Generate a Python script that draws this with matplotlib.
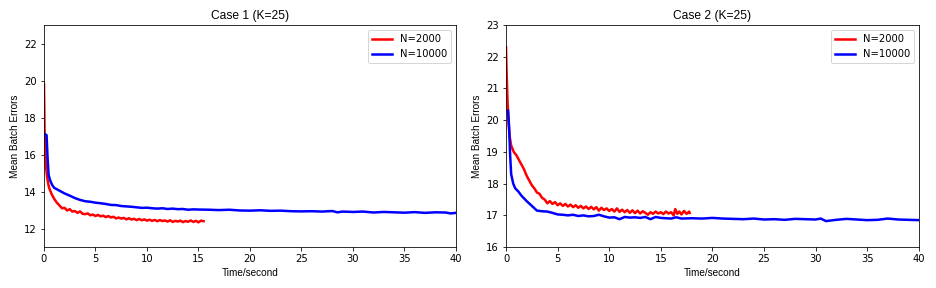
import numpy as np
import matplotlib.pyplot as plt

# Case 1, N=2000
t1_small = [0, 0.05, 0.1, 0.2, 0.3, 0.4, 0.5, 0.75, 1.0, 1.25, 1.5, 1.75, 2.0, 2.25, 2.5, 2.75,
            3.0, 3.25, 3.5, 3.75, 4.0, 4.25, 4.5, 4.75, 5.0, 5.25, 5.5, 5.75, 6.0, 6.25, 6.5, 6.75,
            7.0, 7.25, 7.5, 7.75, 8.0, 8.25, 8.5, 8.75, 9.0, 9.25, 9.5, 9.75, 10.0, 10.25, 10.5, 10.75,
            11.0, 11.25, 11.5, 11.75, 12.0, 12.25, 12.5, 12.75, 13.0, 13.25, 13.5, 13.75, 14.0, 14.25,
            14.5, 14.75, 15.0, 15.25, 15.5]
e1_small = [19.8, 17.5, 16.2, 15.3, 14.8, 14.45, 14.2, 13.85, 13.6, 13.4, 13.25, 13.1, 13.12, 12.98, 13.05, 12.92,
            12.95, 12.85, 12.93, 12.8, 12.78, 12.82, 12.72, 12.76, 12.68, 12.74, 12.66, 12.7, 12.62, 12.68, 12.6, 12.64,
            12.55, 12.6, 12.54, 12.58, 12.5, 12.56, 12.49, 12.53, 12.46, 12.52, 12.45, 12.5, 12.43, 12.48, 12.42, 12.47,
            12.4, 12.46, 12.41, 12.44, 12.38, 12.45, 12.36, 12.42, 12.38, 12.43, 12.35, 12.41, 12.37, 12.44,
            12.36, 12.42, 12.34, 12.43, 12.4]

# Case 1, N=10000
t1_big = [0.1, 0.25, 0.35, 0.45, 0.6, 0.8, 1.0, 1.5, 2.0, 2.5, 3.0, 3.5, 4.0, 4.5, 5.0, 5.5, 6.0, 6.5,
          7.0, 7.5, 8.0, 8.5, 9.0, 9.5, 10.0, 10.5, 11.0, 11.5, 12.0, 12.5, 13.0, 13.5, 14.0, 14.5, 15.0,
          16, 17, 18, 19, 20, 21, 22, 23, 24, 25, 26, 27, 28, 28.5, 29, 30, 31, 32, 33, 34, 35, 36, 37,
          38, 39, 39.5, 40]
e1_big = [17.1, 17.05, 15.8, 14.9, 14.6, 14.35, 14.2, 14.05, 13.9, 13.78, 13.65, 13.55, 13.48, 13.45, 13.4, 13.37, 13.33, 13.28,
          13.27, 13.22, 13.2, 13.18, 13.15, 13.12, 13.13, 13.1, 13.08, 13.1, 13.06, 13.08, 13.05, 13.06, 13.02, 13.04, 13.03,
          13.02, 13.0, 13.02, 12.98, 12.97, 12.99, 12.96, 12.97, 12.94, 12.93, 12.94, 12.92, 12.95, 12.88, 12.92, 12.9, 12.92, 12.87, 12.9, 12.88, 12.86, 12.89, 12.85,
          12.88, 12.87, 12.82, 12.85]

# Case 2, N=2000
t2_small = [0, 0.05, 0.15, 0.25, 0.35, 0.5, 0.75, 1.0, 1.25, 1.5, 1.75, 2.0, 2.25, 2.5, 2.75, 3.0, 3.25,
            3.5, 3.75, 4.0, 4.25, 4.5, 4.75, 5.0, 5.25, 5.5, 5.75, 6.0, 6.25, 6.5, 6.75, 7.0, 7.25, 7.5,
            7.75, 8.0, 8.25, 8.5, 8.75, 9.0, 9.25, 9.5, 9.75, 10.0, 10.25, 10.5, 10.75, 11.0, 11.25, 11.5,
            11.75, 12.0, 12.25, 12.5, 12.75, 13.0, 13.25, 13.5, 13.75, 14.0, 14.25, 14.5, 14.75, 15.0, 15.25,
            15.5, 15.75, 16.0, 16.25, 16.4, 16.6, 16.8, 17.0, 17.25, 17.5, 17.75, 17.8]
e2_small = [22.3, 21.6, 20.6, 19.9, 19.5, 19.2, 19.0, 18.9, 18.75, 18.6, 18.45, 18.25, 18.1, 17.95, 17.85, 17.72, 17.68,
            17.55, 17.5, 17.38, 17.45, 17.36, 17.42, 17.32, 17.38, 17.3, 17.36, 17.28, 17.34, 17.26, 17.32, 17.24, 17.3, 17.22,
            17.28, 17.2, 17.27, 17.19, 17.26, 17.15, 17.24, 17.17, 17.22, 17.14, 17.2, 17.12, 17.22, 17.11, 17.18, 17.1,
            17.17, 17.08, 17.16, 17.07, 17.15, 17.06, 17.13, 17.08, 17.02, 17.1, 17.05, 17.12, 17.06, 17.1, 17.04,
            17.12, 17.06, 17.1, 17.0, 17.2, 17.05, 17.12, 17.03, 17.14, 17.05, 17.12, 17.08]

# Case 2, N=10000
t2_big = [0.2, 0.3, 0.4, 0.5, 0.7, 0.9, 1.2, 1.5, 2.0, 2.5, 3.0, 3.5, 4.0, 4.5, 5.0, 5.5, 6.0, 6.5, 7.0,
          7.5, 8.0, 8.5, 9.0, 9.5, 10.0, 10.5, 11.0, 11.5, 12.0, 12.5, 13.0, 13.5, 14.0, 14.5, 15.0, 16.0,
          16.5, 17, 18, 19, 20, 21, 22, 23, 24, 25, 26, 27, 28, 29, 30, 30.5, 31, 32, 33, 34, 35, 36, 37,
          38, 39, 40]
e2_big = [20.3, 19.8, 18.9, 18.3, 18.0, 17.85, 17.75, 17.62, 17.45, 17.3, 17.15, 17.13, 17.12, 17.08, 17.03, 17.02, 17.0, 17.02, 16.98,
          17.0, 16.97, 16.98, 17.02, 16.97, 16.93, 16.94, 16.88, 16.95, 16.93, 16.94, 16.92, 16.95, 16.88, 16.95, 16.92, 16.9,
          16.94, 16.9, 16.91, 16.9, 16.92, 16.9, 16.89, 16.88, 16.9, 16.87, 16.88, 16.86, 16.89, 16.88, 16.87, 16.9, 16.82, 16.86, 16.89, 16.87, 16.85, 16.86, 16.9,
          16.87, 16.86, 16.85]

fig = plt.figure(figsize=(13, 4), dpi=72)
ax1 = fig.add_axes([0.047, 0.142, 0.440, 0.771])
ax2 = fig.add_axes([0.5406, 0.142, 0.441, 0.771])

panels = [
    (ax1, "Case 1 (K=25)", t1_small, e1_small, t1_big, e1_big, (11, 23), [12, 14, 16, 18, 20, 22]),
    (ax2, "Case 2 (K=25)", t2_small, e2_small, t2_big, e2_big, (16, 23), [16, 17, 18, 19, 20, 21, 22, 23]),
]

for ax, title, ts, es, tb, eb, ylim, yticks in panels:
    ax.plot(ts, es, color="red", lw=2.5, label="N=2000")
    ax.plot(tb, eb, color="blue", lw=2.5, label="N=10000")
    ax.set_xlim(0, 40)
    ax.set_ylim(*ylim)
    ax.set_yticks(yticks)
    ax.set_title(title, fontsize=12, family="Liberation Sans")
    ax.set_xlabel("Time/second", fontsize=10, family="Liberation Sans")
    ax.set_ylabel("Mean Batch Errors", fontsize=10, family="Liberation Sans")
    ax.tick_params(labelsize=10)
    ax.legend(loc="upper right", fontsize=10)

fig.savefig("out.png", dpi=72)
